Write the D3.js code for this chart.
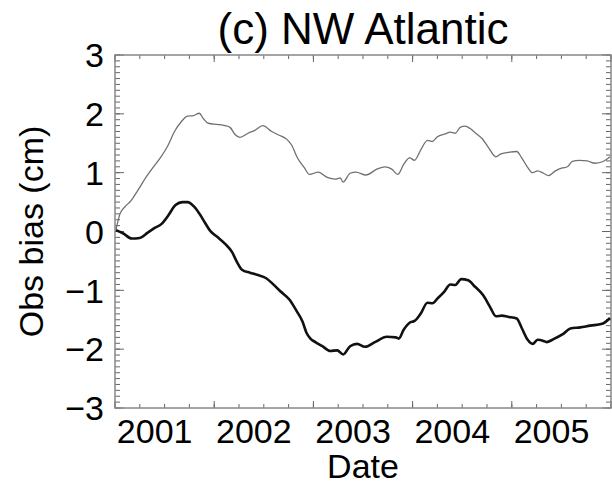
<!DOCTYPE html>
<html>
<head>
<meta charset="utf-8">
<script src="https://cdn.jsdelivr.net/npm/d3@7"></script>
<style>
  body { margin: 0; background: #fff; }
  text { font-family: "Liberation Sans", Arial, Helvetica, sans-serif; fill: #000; }
</style>
</head>
<body>
<script>
// upper thin gray series: decimal year and bias (cm)
const grayDates = [2000.61, 2000.65, 2000.70, 2000.76, 2000.83, 2000.92, 2000.98, 2001.06, 2001.13, 2001.20,
    2001.27, 2001.33, 2001.39, 2001.45, 2001.49, 2001.54, 2001.63, 2001.71, 2001.76, 2001.81,
    2001.86, 2001.94, 2002.01, 2002.09, 2002.18, 2002.25, 2002.33, 2002.38, 2002.44, 2002.51,
    2002.56, 2002.65, 2002.74, 2002.82, 2002.87, 2002.90, 2002.97, 2003.03, 2003.13, 2003.24,
    2003.32, 2003.39, 2003.45, 2003.51, 2003.57, 2003.62, 2003.68, 2003.75, 2003.80, 2003.85,
    2003.93, 2003.98, 2004.03, 2004.08, 2004.13, 2004.18, 2004.23, 2004.30, 2004.36, 2004.44,
    2004.49, 2004.58, 2004.65, 2004.70, 2004.76, 2004.81, 2004.86, 2004.92, 2004.97, 2005.04,
    2005.11, 2005.16, 2005.21, 2005.28, 2005.36, 2005.44, 2005.52, 2005.59];
const grayValues = [0.03, 0.30, 0.42, 0.52, 0.70, 0.94, 1.08, 1.26, 1.45, 1.70,
    1.87, 1.96, 1.97, 2.01, 1.92, 1.84, 1.82, 1.80, 1.77, 1.65,
    1.60, 1.67, 1.72, 1.80, 1.70, 1.64, 1.57, 1.47, 1.25, 1.08,
    0.97, 1.01, 0.92, 0.89, 0.91, 0.84, 0.99, 1.01, 0.96, 1.06,
    1.10, 1.06, 0.97, 1.14, 1.25, 1.21, 1.38, 1.55, 1.53, 1.61,
    1.66, 1.69, 1.67, 1.77, 1.79, 1.75, 1.68, 1.58, 1.44, 1.27,
    1.32, 1.35, 1.36, 1.25, 1.09, 1.00, 1.03, 0.99, 0.95, 1.03,
    1.08, 1.10, 1.19, 1.21, 1.20, 1.16, 1.19, 1.27];

// lower thick black series
const blackDates = [2000.61, 2000.68, 2000.77, 2000.85, 2000.93, 2001.00, 2001.07, 2001.14, 2001.21, 2001.28,
    2001.33, 2001.40, 2001.46, 2001.51, 2001.56, 2001.63, 2001.71, 2001.78, 2001.83, 2001.88,
    2001.96, 2002.04, 2002.12, 2002.19, 2002.27, 2002.36, 2002.43, 2002.49, 2002.53, 2002.57,
    2002.62, 2002.69, 2002.77, 2002.84, 2002.90, 2002.97, 2003.04, 2003.12, 2003.22, 2003.34,
    2003.43, 2003.46, 2003.51, 2003.57, 2003.62, 2003.68, 2003.75, 2003.80, 2003.85, 2003.92,
    2003.98, 2004.03, 2004.09, 2004.16, 2004.23, 2004.31, 2004.38, 2004.44, 2004.50, 2004.56,
    2004.65, 2004.70, 2004.76, 2004.81, 2004.86, 2004.92, 2004.95, 2005.02, 2005.11, 2005.19,
    2005.29, 2005.39, 2005.51, 2005.59];
const blackValues = [0.02, -0.03, -0.12, -0.11, -0.02, 0.06, 0.13, 0.28, 0.45, 0.50,
    0.50, 0.42, 0.28, 0.14, 0.01, -0.09, -0.21, -0.35, -0.52, -0.65,
    -0.70, -0.74, -0.79, -0.89, -1.02, -1.16, -1.35, -1.53, -1.72, -1.82,
    -1.88, -1.95, -2.03, -2.02, -2.09, -1.95, -1.91, -1.96, -1.88, -1.79,
    -1.80, -1.82, -1.67, -1.55, -1.52, -1.40, -1.21, -1.22, -1.14, -1.02,
    -0.90, -0.91, -0.81, -0.83, -0.94, -1.08, -1.28, -1.44, -1.43, -1.45,
    -1.48, -1.64, -1.84, -1.91, -1.84, -1.86, -1.88, -1.83, -1.75, -1.65,
    -1.63, -1.60, -1.57, -1.47];

const yearLabels = [2001, 2002, 2003, 2004, 2005];
const yTicks = [-3, -2, -1, 0, 1, 2, 3];

const svgWidth = 612;
const svgHeight = 494;
const margin = {top: 55, right: 1, bottom: 86, left: 115};
const chartWidth = svgWidth - margin.left - margin.right;
const chartHeight = svgHeight - margin.top - margin.bottom;

const svg = d3.select("body")
    .append("svg")
    .attr("width", svgWidth)
    .attr("height", svgHeight);

const g = svg.append("g")
    .attr("transform", `translate(${margin.left}, ${margin.top})`);

const x = d3.scaleLinear().domain([2000.6, 2005.6]).range([0, chartWidth]);
const y = d3.scaleLinear().domain([-3, 3]).range([chartHeight, 0]);

const axisColor = "#666";

// quarterly ticks, a long one every year from the start of the axis
const xMinor = d3.range(2000.6, 2005.61, 0.25);
const xMajor = d3.range(2000.6, 2005.61, 1);
const yMinor = d3.range(-3, 3.001, 0.1);

function drawTicks(sel, vals, len, horizontal) {
    if (horizontal) {
        sel.selectAll(null).data(vals).join("line")
            .attr("x1", d => x(d)).attr("x2", d => x(d))
            .attr("y1", chartHeight).attr("y2", chartHeight - len)
            .attr("stroke", axisColor).attr("stroke-width", 1);
        sel.selectAll(null).data(vals).join("line")
            .attr("x1", d => x(d)).attr("x2", d => x(d))
            .attr("y1", 0).attr("y2", len)
            .attr("stroke", axisColor).attr("stroke-width", 1);
    } else {
        sel.selectAll(null).data(vals).join("line")
            .attr("y1", d => y(d)).attr("y2", d => y(d))
            .attr("x1", 0).attr("x2", len)
            .attr("stroke", axisColor).attr("stroke-width", 1);
        sel.selectAll(null).data(vals).join("line")
            .attr("y1", d => y(d)).attr("y2", d => y(d))
            .attr("x1", chartWidth).attr("x2", chartWidth - len)
            .attr("stroke", axisColor).attr("stroke-width", 1);
    }
}

const ticksG = g.append("g");
drawTicks(ticksG, xMinor, 4, true);
drawTicks(ticksG, xMajor, 7, true);
drawTicks(ticksG, yMinor, 5, false);
drawTicks(ticksG, yTicks, 9, false);

// frame
g.append("rect")
    .attr("width", chartWidth)
    .attr("height", chartHeight)
    .attr("fill", "none")
    .attr("stroke", "#888")
    .attr("stroke-width", 1.5);

// series
const line = d3.line()
    .x(d => x(d[0]))
    .y(d => y(d[1]))
    .curve(d3.curveMonotoneX);

g.append("path")
    .datum(d3.zip(grayDates, grayValues))
    .attr("d", line)
    .attr("fill", "none")
    .attr("stroke", "#707070")
    .attr("stroke-width", 1.3)
    .attr("stroke-linejoin", "round");

g.append("path")
    .datum(d3.zip(blackDates, blackValues))
    .attr("d", line)
    .attr("fill", "none")
    .attr("stroke", "#111")
    .attr("stroke-width", 2.6)
    .attr("stroke-linejoin", "round");

// tick labels
g.selectAll(null).data(yTicks).join("text")
    .attr("x", -11)
    .attr("y", d => y(d))
    .attr("dy", "0.36em")
    .attr("text-anchor", "end")
    .style("font-size", "34px")
    .text(d => d < 0 ? "\u2212" + Math.abs(d) : d);

g.selectAll(null).data(yearLabels).join("text")
    .attr("x", d => x(d))
    .attr("y", chartHeight + 35)
    .attr("text-anchor", "middle")
    .style("font-size", "34px")
    .text(d => d);

// titles
svg.append("text")
    .attr("x", 363)
    .attr("y", 44)
    .attr("text-anchor", "middle")
    .style("font-size", "44px")
    .text("(c) NW Atlantic");

svg.append("text")
    .attr("x", 363)
    .attr("y", 478)
    .attr("text-anchor", "middle")
    .style("font-size", "34px")
    .text("Date");

svg.append("text")
    .attr("transform", `translate(43, ${margin.top + chartHeight / 2}) rotate(-90)`)
    .attr("text-anchor", "middle")
    .style("font-size", "34px")
    .text("Obs bias (cm)");
</script>
</body>
</html>
